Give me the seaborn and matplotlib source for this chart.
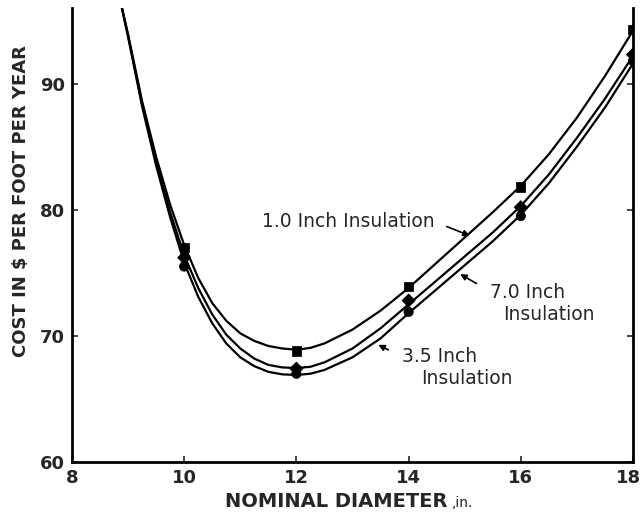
import numpy as np
import pandas as pd
import matplotlib
matplotlib.use("Agg")
import matplotlib.pyplot as plt
import matplotlib.transforms as mtransforms
import seaborn as sns

# Fitted cost curves (nominal diameter, in. -> $ per foot per year)
curve_x = [8.89, 9.0, 9.25, 9.5, 9.75, 10.0, 10.25, 10.5, 10.75, 11.0, 11.25,
           11.5, 11.75, 12.0, 12.25, 12.5, 13.0, 13.5, 14.0, 14.5, 15.0, 15.5,
           16.0, 16.5, 17.0, 17.5, 18.0]
curve_1_0 = [96.0, 93.9, 88.6, 84.2, 80.4, 77.2, 74.6, 72.6, 71.2, 70.2, 69.6,
             69.2, 69.0, 68.9, 69.05, 69.4, 70.5, 72.0, 73.8, 75.8, 77.8, 79.8,
             81.9, 84.4, 87.3, 90.6, 94.2]
curve_7_0 = [96.0, 93.8, 88.4, 83.8, 79.8, 76.4, 73.8, 71.7, 70.1, 69.0, 68.2,
             67.7, 67.5, 67.45, 67.55, 67.9, 69.0, 70.6, 72.5, 74.4, 76.3, 78.2,
             80.3, 82.8, 85.7, 88.8, 92.2]
curve_3_5 = [96.0, 93.7, 88.2, 83.5, 79.4, 75.8, 73.1, 71.0, 69.4, 68.3, 67.6,
             67.15, 66.95, 66.9, 67.0, 67.3, 68.3, 69.8, 71.8, 73.7, 75.6, 77.5,
             79.6, 82.1, 85.0, 88.1, 91.6]

# Computed points
point_x = [10, 12, 14, 16, 18]
points_1_0 = [77.0, 68.8, 73.9, 81.8, 94.3]
points_7_0 = [76.2, 67.4, 72.8, 80.2, 92.3]
points_3_5 = [75.5, 67.0, 71.9, 79.5, 91.8]

series = ["1.0", "7.0", "3.5"]
curves = pd.concat([
    pd.DataFrame({"diameter": curve_x, "cost": c, "insulation": s})
    for s, c in zip(series, [curve_1_0, curve_7_0, curve_3_5])
], ignore_index=True)
points = pd.concat([
    pd.DataFrame({"diameter": point_x, "cost": p, "insulation": s})
    for s, p in zip(series, [points_1_0, points_7_0, points_3_5])
], ignore_index=True)

sns.set_theme(style="ticks")
plt.rcParams["font.family"] = ["DejaVu Sans"]

fig = plt.figure(figsize=(6.41, 5.15), dpi=100)
ax = fig.add_axes([0.1123, 0.1029, 0.8752, 0.8816])

sns.lineplot(data=curves, x="diameter", y="cost", hue="insulation",
             palette={s: "black" for s in series}, linewidth=1.6,
             legend=False, sort=True, ax=ax, solid_capstyle="round")
sns.scatterplot(data=points, x="diameter", y="cost", style="insulation",
                markers={"1.0": "s", "7.0": "D", "3.5": "o"},
                color="black", s=45, edgecolor="black", legend=False,
                ax=ax, zorder=5)

ax.set_xlim(8, 18)
ax.set_ylim(60, 96.0)
ax.set_xticks([8, 10, 12, 14, 16, 18])
ax.set_yticks([60, 70, 80, 90])
ax.tick_params(axis="both", direction="in", length=4, width=1.2,
               labelsize=13, pad=5)
ax.tick_params(axis="y", right=True)
for lab in ax.get_xticklabels() + ax.get_yticklabels():
    lab.set_fontweight("bold")
# keep the last x label inside the figure
last = ax.get_xticklabels()[-1]
last.set_transform(last.get_transform() +
                   mtransforms.ScaledTranslation(-4 / 100, 0, fig.dpi_scale_trans))

ax.spines["top"].set_visible(False)
for side in ["left", "bottom", "right"]:
    ax.spines[side].set_linewidth(2.0)
    ax.spines[side].set_color("black")

ax.set_xlabel("")
ax.set_ylabel("")
fig.text(21 / 641, 1 - 201 / 515, "COST IN $ PER FOOT PER YEAR", rotation=90,
         fontsize=13, fontweight="bold", ha="center", va="center")
fig.text(225 / 641, 1 - 507 / 515, "NOMINAL DIAMETER", fontsize=14,
         fontweight="bold", ha="left", va="baseline")
fig.text(452 / 641, 1 - 507 / 515, ",in.", fontsize=10,
         ha="left", va="baseline")

arrow = dict(arrowstyle="-|>", color="black", lw=1.2, mutation_scale=9,
             shrinkA=0, shrinkB=0)
ax.text(11.39, 79.05, "1.0 Inch Insulation", fontsize=13.5,
        ha="left", va="center")
ax.annotate("", xy=(15.09, 77.95), xytext=(14.68, 78.67), arrowprops=arrow)

ax.text(15.45, 73.41, "7.0 Inch", fontsize=13.5, ha="left", va="center")
ax.text(15.68, 71.67, "Insulation", fontsize=13.5, ha="left", va="center")
ax.annotate("", xy=(14.92, 74.9), xytext=(15.21, 74.15), arrowprops=arrow)

ax.text(13.88, 68.36, "3.5 Inch", fontsize=13.5, ha="left", va="center")
ax.text(14.23, 66.64, "Insulation", fontsize=13.5, ha="left", va="center")
ax.annotate("", xy=(13.46, 69.29), xytext=(13.64, 68.89), arrowprops=arrow)

fig.savefig("out.png", dpi=100)
